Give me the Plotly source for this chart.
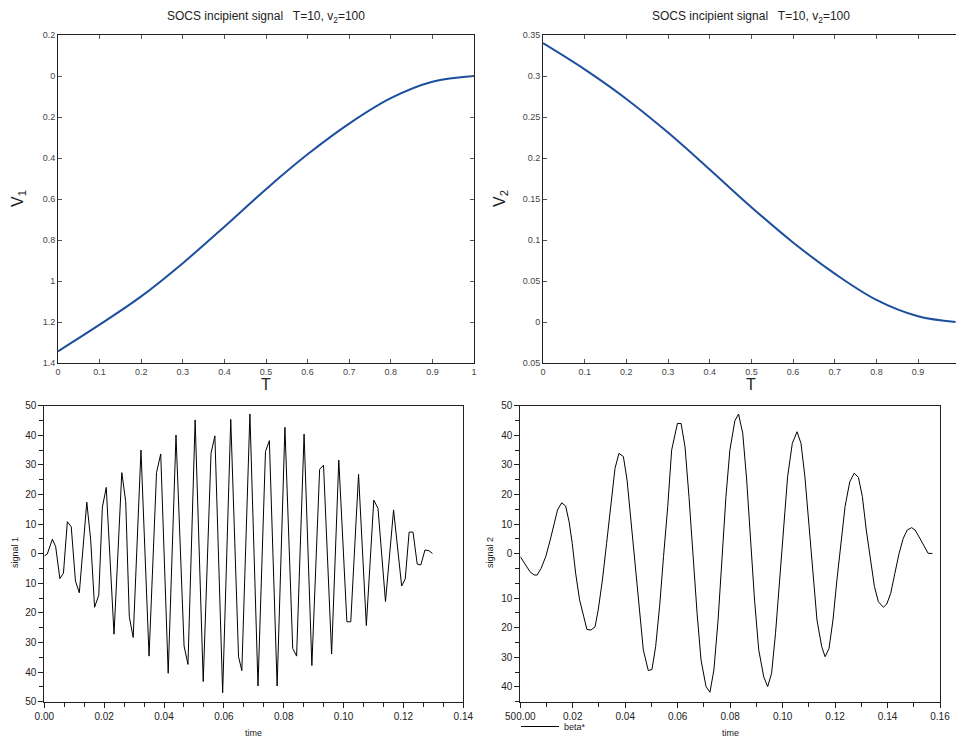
import plotly.graph_objects as go

W, H = 956, 740

# ---------------- data ----------------
T_vals = [0.0, 0.1, 0.2, 0.3, 0.4, 0.5, 0.6, 0.7, 0.8, 0.9, 1.0]
V1_vals = [-1.343, -1.213, -1.075, -0.913, -0.735, -0.552, -0.382, -0.232, -0.108, -0.028, 0.0]

T2_vals = [0.0, 0.1, 0.2, 0.3, 0.4, 0.5, 0.6, 0.7, 0.8, 0.9, 0.99]
V2_vals = [0.340, 0.308, 0.272, 0.231, 0.186, 0.140, 0.097, 0.059, 0.027, 0.007, 0.0]

s1_time = [0.0000, 0.0010, 0.0027, 0.0038, 0.0052, 0.0064, 0.0077, 0.0090, 0.0104, 0.0117,
           0.0142, 0.0155, 0.0168, 0.0182, 0.0194, 0.0207, 0.0233, 0.0259, 0.0272, 0.0284,
           0.0297, 0.0323, 0.0350, 0.0375, 0.0389, 0.0414, 0.0440, 0.0467, 0.0480, 0.0504,
           0.0531, 0.0557, 0.0570, 0.0596, 0.0623, 0.0649, 0.0660, 0.0687, 0.0714, 0.0739,
           0.0752, 0.0778, 0.0804, 0.0830, 0.0843, 0.0868, 0.0894, 0.0920, 0.0933, 0.0960,
           0.0984, 0.1011, 0.1024, 0.1050, 0.1076, 0.1101, 0.1115, 0.1140, 0.1167, 0.1194,
           0.1206, 0.1219, 0.1232, 0.1246, 0.1258, 0.1272, 0.1285, 0.1297]
s1_vals = [-0.8, -0.1, 4.9, 2.4, -8.4, -6.6, 10.8, 9.1, -9.2, -13.2,
           17.4, 4.6, -18.1, -14.0, 15.7, 22.4, -27.2, 27.4, 17.6, -21.3,
           -28.3, 35.0, -34.6, 27.4, 33.7, -40.4, 40.1, -31.2, -37.4, 45.2,
           -43.2, 33.9, 39.8, -47.0, 45.4, -34.8, -39.5, 47.2, -44.7, 34.5,
           38.2, -44.7, 42.7, -32.0, -34.6, 40.4, -37.8, 28.5, 29.9, -33.9,
           31.6, -23.0, -23.0, 26.8, -24.3, 18.1, 15.3, -16.2, 14.8, -10.9,
           -8.5, 7.3, 7.3, -3.5, -3.8, 1.25, 1.0, 0.1]

s2_time = [0.0000, 0.0018, 0.0037, 0.0053, 0.0064, 0.0079, 0.0097, 0.0114, 0.0130, 0.0142,
           0.0158, 0.0173, 0.0186, 0.0198, 0.0211, 0.0226, 0.0242, 0.0254, 0.0269, 0.0285,
           0.0297, 0.0313, 0.0329, 0.0346, 0.0361, 0.0376, 0.0393, 0.0407, 0.0422, 0.0437,
           0.0452, 0.0469, 0.0488, 0.0502, 0.0516, 0.0531, 0.0546, 0.0562, 0.0577, 0.0599,
           0.0613, 0.0628, 0.0643, 0.0658, 0.0674, 0.0689, 0.0708, 0.0723, 0.0738, 0.0754,
           0.0769, 0.0784, 0.0799, 0.0818, 0.0832, 0.0848, 0.0863, 0.0878, 0.0893, 0.0909,
           0.0928, 0.0943, 0.0958, 0.0973, 0.0989, 0.1004, 0.1019, 0.1037, 0.1055, 0.1070,
           0.1085, 0.1101, 0.1116, 0.1131, 0.1149, 0.1162, 0.1177, 0.1192, 0.1207, 0.1223,
           0.1238, 0.1256, 0.1273, 0.1289, 0.1304, 0.1319, 0.1334, 0.1350, 0.1365, 0.1384,
           0.1397, 0.1412, 0.1428, 0.1444, 0.1460, 0.1475, 0.1492, 0.1505, 0.1520, 0.1536,
           0.1555, 0.1571]
s2_vals = [-1.0, -3.5, -6.1, -7.2, -7.2, -5.0, -1.0, 4.6, 10.8, 14.8,
           17.2, 16.1, 10.8, 3.5, -6.6, -15.6, -21.3, -25.6, -25.8, -24.7,
           -19.0, -8.9, 3.5, 18.1, 28.8, 33.9, 32.8, 24.9, 11.4, -2.1,
           -17.9, -32.5, -39.5, -39.1, -31.4, -17.9, -1.0, 15.9, 35.0, 44.0,
           44.0, 36.1, 19.3, -1.0, -20.2, -35.9, -44.9, -46.8, -39.3, -22.4,
           -2.1, 19.3, 35.0, 44.9, 47.2, 40.7, 24.9, 4.6, -15.7, -32.5,
           -41.6, -44.9, -40.4, -26.9, -8.9, 9.1, 26.0, 37.3, 41.2, 37.3,
           26.0, 9.1, -7.8, -22.4, -31.4, -34.8, -32.0, -22.4, -8.9, 4.6,
           15.9, 24.3, 27.2, 25.8, 19.3, 8.0, -2.1, -11.1, -16.2, -18.1,
           -17.0, -13.4, -6.6, 0.1, 5.2, 8.0, 8.8, 8.0, 5.7, 2.9,
           0.1, 0.1]

# tick labels
tl_y_vals = [-1.4, -1.2, -1.0, -0.8, -0.6, -0.4, -0.2, 0.0, 0.2]
tl_y_text = ["1.4", "1.2", "1", "0.8", "0.6", "0.4", "0.2", "0", "0.2"]
t_x_vals = [0, 0.1, 0.2, 0.3, 0.4, 0.5, 0.6, 0.7, 0.8, 0.9, 1.0]
t_x_text = ["0", "0.1", "0.2", "0.3", "0.4", "0.5", "0.6", "0.7", "0.8", "0.9", "1"]
tr_y_vals = [-0.05, 0.0, 0.05, 0.1, 0.15, 0.2, 0.25, 0.3, 0.35]
tr_y_text = ["0.05", "0", "0.05", "0.1", "0.15", "0.2", "0.25", "0.3", "0.35"]
bl_y_vals = [-50, -40, -30, -20, -10, 0, 10, 20, 30, 40, 50]
bl_y_text = ["50", "40", "30", "20", "10", "0", "10", "20", "30", "40", "50"]
br_y_vals = [-45, -35, -25, -15, 0, 10, 20, 30, 40, 50]
br_y_text = ["40", "30", "20", "10", "0", "10", "20", "30", "40", "50"]
bl_x_vals = [0, 0.02, 0.04, 0.06, 0.08, 0.10, 0.12, 0.14]
bl_x_text = ["0.00", "0.02", "0.04", "0.06", "0.08", "0.10", "0.12", "0.14"]
br_x_vals = [0, 0.02, 0.04, 0.06, 0.08, 0.10, 0.12, 0.14, 0.16]
br_x_text = ["500.00", "0.02", "0.04", "0.06", "0.08", "0.10", "0.12", "0.14", "0.16"]

FONT = "Liberation Sans, Arial, Helvetica, sans-serif"
BLUE = "#1d4f9f"


def px(x):
    return x / W


def py(y):
    return 1 - y / H


fig = go.Figure()
fig.add_trace(go.Scatter(x=T_vals, y=V1_vals, mode="lines",
                         line=dict(color=BLUE, width=2, shape="spline", smoothing=1.0),
                         xaxis="x", yaxis="y", showlegend=False))
fig.add_trace(go.Scatter(x=T2_vals, y=V2_vals, mode="lines",
                         line=dict(color=BLUE, width=2, shape="spline", smoothing=1.0),
                         xaxis="x2", yaxis="y2", showlegend=False))
fig.add_trace(go.Scatter(x=s1_time, y=s1_vals, mode="lines", line=dict(color="black", width=1),
                         xaxis="x3", yaxis="y3", showlegend=False))
fig.add_trace(go.Scatter(x=s2_time, y=s2_vals, mode="lines", line=dict(color="black", width=1),
                         xaxis="x4", yaxis="y4", name="beta*", showlegend=True))

top_tick = dict(ticks="inside", ticklen=4, tickcolor="#555", showline=True, linecolor="#222", linewidth=1,
                tickfont=dict(family=FONT, size=9, color="#444"), showgrid=False, zeroline=False,
                automargin=False)
bot_tick = dict(ticks="outside", ticklen=5, tickcolor="#222", showline=True, linecolor="#222", linewidth=1,
                tickfont=dict(family=FONT, size=10, color="#222"), showgrid=False, zeroline=False,
                automargin=False)

fig.update_layout(
    width=W, height=H, autosize=False,
    margin=dict(l=0, r=0, t=0, b=0, pad=0, autoexpand=False),
    paper_bgcolor="white", plot_bgcolor="white",
    font=dict(family=FONT, color="#222"),
    xaxis=dict(domain=[px(58), px(474)], anchor="y", range=[0, 1], tickmode="array",
               tickvals=t_x_vals, ticktext=t_x_text, mirror="ticks", **top_tick),
    yaxis=dict(domain=[py(363), py(35)], anchor="x", range=[-1.4, 0.2], tickmode="array",
               tickvals=tl_y_vals, ticktext=tl_y_text, mirror="ticks", **top_tick),
    xaxis2=dict(domain=[px(543), 1.0], anchor="y2", range=[0, 0.991], tickmode="array",
                tickvals=t_x_vals[:-1], ticktext=t_x_text[:-1], mirror="ticks", **top_tick),
    yaxis2=dict(domain=[py(363), py(35)], anchor="x2", range=[-0.05, 0.35], tickmode="array",
                tickvals=tr_y_vals, ticktext=tr_y_text, mirror=False, **top_tick),
    xaxis3=dict(domain=[px(44.3), px(463.3)], anchor="y3", range=[0, 0.14], tickmode="array",
                tickvals=bl_x_vals, ticktext=bl_x_text, mirror=True,
                minor=dict(tickmode="linear", tick0=0, dtick=0.02 / 3, ticks="outside", ticklen=4,
                           tickcolor="#222"), **bot_tick),
    yaxis3=dict(domain=[py(701.7), py(405.7)], anchor="x3", range=[-50, 50], tickmode="array",
                tickvals=bl_y_vals, ticktext=bl_y_text, mirror=True,
                minor=dict(tickmode="linear", tick0=0, dtick=5, ticks="outside", ticklen=4,
                           tickcolor="#222"), **bot_tick),
    xaxis4=dict(domain=[px(520.3), px(940)], anchor="y4", range=[0, 0.16], tickmode="array",
                tickvals=br_x_vals, ticktext=br_x_text, mirror=True,
                minor=dict(tickmode="linear", tick0=0, dtick=0.01, ticks="outside", ticklen=4,
                           tickcolor="#222"), **bot_tick),
    yaxis4=dict(domain=[py(701.7), py(405.7)], anchor="x4", range=[-50, 50], tickmode="array",
                tickvals=br_y_vals, ticktext=br_y_text, mirror=True,
                minor=dict(tickmode="linear", tick0=0, dtick=5, ticks="outside", ticklen=4,
                           tickcolor="#222"), **bot_tick),
    legend=dict(x=px(516), y=py(712), xanchor="left", yanchor="top", bgcolor="rgba(0,0,0,0)",
                font=dict(family=FONT, size=9, color="#222"), borderwidth=0, itemwidth=38),
)

title_txt = "SOCS incipient signal   T=10, v<sub>2</sub>=100"


def A(text, x, y, xref="paper", size=12, angle=0):
    return dict(text=text, x=x, y=y, xref=xref, yref="paper", showarrow=False,
                xanchor="center", yanchor="middle", textangle=angle,
                font=dict(family=FONT, size=size, color="#222"))


ann = [
    A(title_txt, 0.5, py(17), xref="x", size=12),
    A(title_txt, 0.5, py(17), xref="x2", size=12),
    A("V<sub>1</sub>", px(18), py(199), size=16, angle=-90),
    A("V<sub>2</sub>", px(500), py(199), size=16, angle=-90),
    A("T", 0.5, py(384), xref="x", size=16),
    A("T", 0.5, py(384), xref="x2", size=16),
    A("signal 1", px(15), py(553), size=9, angle=-90),
    A("signal 2", px(490), py(553), size=9, angle=-90),
    A("time", px(253.8), py(733), size=9),
    A("time", px(730), py(733), size=9),
]
fig.update_layout(annotations=ann)

fig.write_html("out.html")
